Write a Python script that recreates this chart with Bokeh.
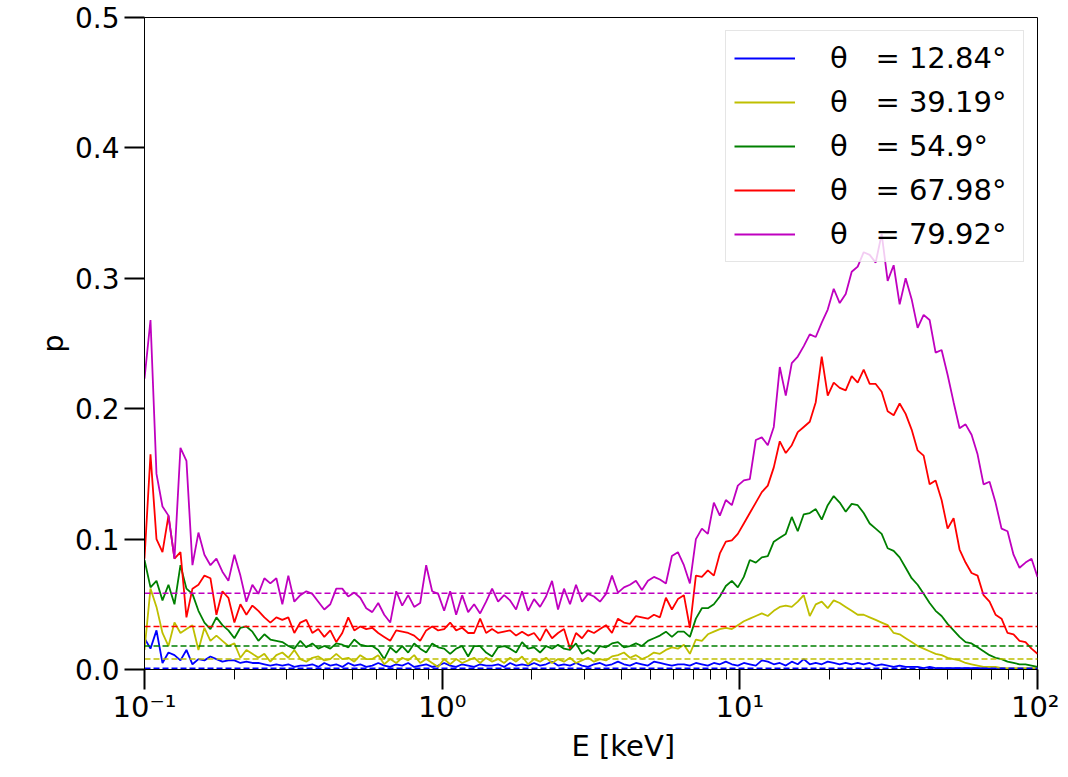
import numpy as np
from bokeh.plotting import figure
from bokeh.models import (FixedTicker, CustomJSTickFormatter, Legend,
                          LegendItem, NumeralTickFormatter, Title)
from bokeh.embed import file_html
from bokeh.resources import INLINE

# ---------------- data ----------------
E_MIN, E_MAX = 0.1, 100.0
N_POINTS = 150
energy = np.logspace(np.log10(E_MIN), np.log10(E_MAX), N_POINTS)

angles = ["12.84", "39.19", "54.9", "67.98", "79.92"]
colors = ["#0000ff", "#bfbf00", "#008000", "#ff0000", "#bf00bf"]
# horizontal reference levels (dashed)
levels = [0.001, 0.008, 0.018, 0.033, 0.0585]

p_blue = [
    0.024, 0.016, 0.030, 0.005, 0.013, 0.011, 0.007, 0.015, 0.004, 0.008,
    0.007, 0.010, 0.008, 0.006, 0.007, 0.007, 0.005, 0.006, 0.005, 0.005,
    0.004, 0.003, 0.004, 0.003, 0.004, 0.002, 0.003,
    0.003, 0.004, 0.002, 0.005, 0.003, 0.004, 0.002, 0.005, 0.003, 0.004,
    0.002, 0.003, 0.005, 0.003, 0.002, 0.004, 0.003, 0.005, 0.002, 0.003,
    0.004, 0.002, 0.003, 0.005, 0.003, 0.002, 0.004, 0.003, 0.002, 0.004, 0.003,
    0.003, 0.004, 0.002, 0.005, 0.003, 0.004, 0.003, 0.005, 0.003, 0.004,
    0.006, 0.003, 0.004, 0.003, 0.005, 0.003, 0.002, 0.004, 0.005, 0.003,
    0.004, 0.006, 0.004, 0.003, 0.005, 0.004, 0.003, 0.006, 0.005, 0.004,
    0.003, 0.004,
    0.004, 0.003, 0.005, 0.004, 0.003, 0.005, 0.004, 0.006, 0.004, 0.003,
    0.005, 0.004, 0.003, 0.007, 0.006, 0.004, 0.005, 0.003, 0.006, 0.004,
    0.008, 0.004, 0.005, 0.004, 0.006, 0.005, 0.004, 0.005, 0.004, 0.005,
    0.004, 0.005, 0.003, 0.004, 0.003, 0.002, 0.003, 0.002, 0.002, 0.002,
    0.001, 0.002, 0.001, 0.001, 0.001, 0.001, 0.001, 0.001, 0.001, 0.001,
    0.001, 0.001, 0.000, 0.001, 0.000, 0.000, 0.000, 0.000, 0.000, 0.000,
]

p_yellow = [
    0.015, 0.062, 0.048, 0.028, 0.018, 0.036, 0.028, 0.031, 0.034, 0.015,
    0.032, 0.022, 0.026, 0.022, 0.018, 0.020, 0.009, 0.015, 0.012, 0.009,
    0.012, 0.006, 0.011, 0.013, 0.009, 0.015, 0.008,
    0.006, 0.009, 0.010, 0.007, 0.008, 0.012, 0.008, 0.009, 0.006, 0.011,
    0.008, 0.008, 0.011, 0.004, 0.008, 0.005, 0.009, 0.007, 0.011, 0.005,
    0.008, 0.005, 0.002, 0.008, 0.004, 0.008, 0.005, 0.007, 0.009, 0.005, 0.009,
    0.006, 0.008, 0.005, 0.009, 0.006, 0.010, 0.004, 0.008, 0.006, 0.009,
    0.005, 0.008, 0.006, 0.009, 0.005, 0.007, 0.009, 0.006, 0.008, 0.007,
    0.010, 0.011, 0.013, 0.009, 0.011, 0.008, 0.010, 0.013, 0.012, 0.015,
    0.017, 0.016,
    0.019, 0.012, 0.023, 0.022, 0.027, 0.029, 0.031, 0.032, 0.031, 0.034,
    0.037, 0.039, 0.041, 0.043, 0.041, 0.045, 0.048, 0.049, 0.048, 0.052,
    0.057, 0.041, 0.050, 0.052, 0.047, 0.053, 0.051, 0.048, 0.045, 0.042,
    0.042, 0.040, 0.038, 0.036, 0.034, 0.028, 0.027, 0.024, 0.021, 0.018,
    0.016, 0.014, 0.012, 0.011, 0.009, 0.008, 0.007, 0.005, 0.004, 0.003,
    0.002, 0.002, 0.002, 0.001, 0.001, 0.001, 0.001, 0.001, 0.001, 0.001,
]

p_green = [
    0.084, 0.063, 0.068, 0.053, 0.065, 0.050, 0.080, 0.062, 0.058, 0.045,
    0.036, 0.031, 0.040, 0.034, 0.030, 0.024, 0.032, 0.033, 0.029, 0.022,
    0.027, 0.023, 0.022, 0.021, 0.018, 0.016, 0.022,
    0.017, 0.020, 0.016, 0.018, 0.016, 0.020, 0.019, 0.017, 0.023, 0.019,
    0.018, 0.018, 0.015, 0.008, 0.017, 0.013, 0.018, 0.013, 0.020, 0.016,
    0.013, 0.020, 0.017, 0.016, 0.012, 0.016, 0.018, 0.010, 0.018, 0.018, 0.013,
    0.010, 0.017, 0.018, 0.016, 0.013, 0.021, 0.016, 0.017, 0.013, 0.018,
    0.016, 0.019, 0.016, 0.015, 0.020, 0.012, 0.015, 0.012, 0.018, 0.017,
    0.020, 0.021, 0.017, 0.018, 0.020, 0.018, 0.022, 0.024, 0.026, 0.029,
    0.025, 0.029,
    0.029, 0.025, 0.039, 0.047, 0.047, 0.050, 0.056, 0.064, 0.068, 0.063,
    0.071, 0.084, 0.082, 0.086, 0.087, 0.098, 0.101, 0.104, 0.117, 0.106,
    0.119, 0.120, 0.123, 0.115, 0.126, 0.133, 0.128, 0.121, 0.127, 0.126,
    0.120, 0.112, 0.108, 0.104, 0.093, 0.091, 0.086, 0.078, 0.070, 0.065,
    0.058, 0.051, 0.045, 0.041, 0.035, 0.030, 0.025, 0.021, 0.020, 0.017,
    0.014, 0.011, 0.009, 0.008, 0.006, 0.005, 0.004, 0.004, 0.003, 0.002,
]

p_red = [
    0.085, 0.165, 0.100, 0.090, 0.118, 0.085, 0.090, 0.040, 0.062, 0.065,
    0.072, 0.070, 0.042, 0.060, 0.055, 0.036, 0.050, 0.042, 0.049, 0.045,
    0.040, 0.036, 0.040, 0.038, 0.040, 0.028, 0.036,
    0.038, 0.028, 0.031, 0.025, 0.030, 0.021, 0.028, 0.040, 0.030, 0.033,
    0.031, 0.032, 0.028, 0.025, 0.022, 0.030, 0.029, 0.028, 0.026, 0.022,
    0.030, 0.033, 0.030, 0.031, 0.036, 0.030, 0.032, 0.028, 0.028, 0.039, 0.028,
    0.031, 0.028, 0.029, 0.030, 0.026, 0.029, 0.026, 0.028, 0.022, 0.031,
    0.024, 0.028, 0.031, 0.016, 0.028, 0.024, 0.030, 0.028, 0.031, 0.034,
    0.028, 0.039, 0.036, 0.035, 0.041, 0.040, 0.039, 0.042, 0.040, 0.055,
    0.046, 0.054,
    0.057, 0.032, 0.072, 0.071, 0.076, 0.072, 0.089, 0.098, 0.099, 0.104,
    0.112, 0.120, 0.128, 0.136, 0.141, 0.155, 0.175, 0.166, 0.172, 0.182,
    0.186, 0.190, 0.205, 0.240, 0.210, 0.220, 0.216, 0.214, 0.225, 0.220,
    0.230, 0.219, 0.219, 0.213, 0.198, 0.195, 0.204, 0.196, 0.184, 0.168,
    0.164, 0.142, 0.145, 0.130, 0.108, 0.116, 0.092, 0.082, 0.074, 0.072,
    0.057, 0.052, 0.042, 0.039, 0.028, 0.027, 0.022, 0.021, 0.016, 0.012,
]

p_magenta = [
    0.223, 0.268, 0.150, 0.125, 0.118, 0.085, 0.170, 0.160, 0.080, 0.105,
    0.088, 0.080, 0.085, 0.075, 0.068, 0.088, 0.072, 0.052, 0.065, 0.058,
    0.070, 0.066, 0.070, 0.050, 0.072, 0.052, 0.057,
    0.060, 0.058, 0.052, 0.046, 0.050, 0.062, 0.062, 0.056, 0.059, 0.055,
    0.047, 0.044, 0.051, 0.042, 0.036, 0.060, 0.049, 0.057, 0.048, 0.051,
    0.080, 0.060, 0.058, 0.045, 0.060, 0.042, 0.057, 0.044, 0.050, 0.043, 0.052,
    0.062, 0.052, 0.057, 0.053, 0.046, 0.060, 0.045, 0.054, 0.048, 0.056,
    0.068, 0.046, 0.062, 0.050, 0.065, 0.052, 0.058, 0.056, 0.052, 0.058,
    0.072, 0.059, 0.063, 0.065, 0.068, 0.061, 0.068, 0.071, 0.069, 0.066,
    0.087, 0.090,
    0.080, 0.066, 0.100, 0.108, 0.104, 0.128, 0.118, 0.130, 0.126, 0.141,
    0.145, 0.146, 0.176, 0.178, 0.172, 0.186, 0.232, 0.210, 0.235, 0.240,
    0.248, 0.257, 0.255, 0.266, 0.276, 0.292, 0.281, 0.288, 0.305, 0.309,
    0.320, 0.318, 0.312, 0.334, 0.298, 0.310, 0.280, 0.300, 0.284, 0.262,
    0.272, 0.268, 0.243, 0.245, 0.226, 0.205, 0.185, 0.188, 0.180, 0.165,
    0.142, 0.144, 0.128, 0.108, 0.106, 0.088, 0.078, 0.082, 0.085, 0.071,
]

series = [p_blue, p_yellow, p_green, p_red, p_magenta]

x_major_ticks = [0.1, 1.0, 10.0, 100.0]
x_minor_ticks = [m * d for d in (0.1, 1.0, 10.0) for m in range(2, 10)]
y_ticks = [0.0, 0.1, 0.2, 0.3, 0.4, 0.5]

FONT = "DejaVu Sans"

# ---------------- figure ----------------
p = figure(
    frame_width=893, frame_height=652,
    min_border_left=144, min_border_top=17,
    min_border_right=22, min_border_bottom=100,
    x_axis_type="log", x_range=(E_MIN, E_MAX), y_range=(0.0, 0.5),
    output_backend="svg", toolbar_location=None,
)
p.xgrid.visible = False
p.ygrid.visible = False
p.outline_line_color = "black"
p.outline_line_width = 1
p.background_fill_color = "white"
p.border_fill_color = "white"

renderers = []
for vals, col in zip(series, colors):
    r = p.line(energy, vals, line_color=col, line_width=1.8)
    renderers.append(r)

for lvl, col in zip(levels, colors):
    p.line([E_MIN, E_MAX], [lvl, lvl], line_color=col, line_width=1.6,
           line_dash="6 3")

# x axis
xa = p.xaxis[0]
xa.ticker = FixedTicker(ticks=x_major_ticks, minor_ticks=x_minor_ticks)
xa.formatter = CustomJSTickFormatter(code="""
const e = Math.round(Math.log10(tick));
const sup = {"-1": "\u207b\u00b9", "0": "\u2070", "1": "\u00b9", "2": "\u00b2"};
return "10" + sup[String(e)];
""")
xa.major_tick_out = 20
xa.major_tick_in = 0
xa.minor_tick_out = 10
xa.minor_tick_in = 0
xa.major_tick_line_width = 2
xa.minor_tick_line_width = 1
xa.major_tick_line_color = "black"
xa.minor_tick_line_color = "black"
xa.axis_line_color = "black"
xa.axis_line_width = 1
xa.major_label_text_font = FONT
xa.major_label_text_font_size = "29px"
xa.major_label_text_color = "black"
xa.major_label_standoff = 0

# y axis
ya = p.yaxis[0]
ya.ticker = FixedTicker(ticks=y_ticks)
ya.formatter = NumeralTickFormatter(format="0.0")
ya.major_tick_out = 20
ya.major_tick_in = 0
ya.major_tick_line_width = 2
ya.major_tick_line_color = "black"
ya.minor_tick_line_color = None
ya.axis_line_color = "black"
ya.axis_line_width = 1
ya.major_label_text_font = FONT
ya.major_label_text_font_size = "28px"
ya.major_label_text_color = "black"
ya.major_label_standoff = 5
ya.axis_label = "p"
ya.axis_label_text_font = FONT
ya.axis_label_text_font_size = "29px"
ya.axis_label_text_font_style = "normal"
ya.axis_label_text_color = "black"
ya.axis_label_standoff = 2

# x axis label, set below the axis and shifted right as in the reference
xlabel = Title(text="E [keV]", align="left", offset=427, standoff=0,
               text_font=FONT, text_font_size="29px",
               text_font_style="normal", text_color="black")
p.add_layout(xlabel, "below")

# legend
items = [LegendItem(label=f"\u03b8   = {a}\u00b0", renderers=[r])
         for a, r in zip(angles, renderers)]
legend = Legend(
    items=items, location="top_right",
    label_text_font=FONT, label_text_font_size="29px", label_text_color="black",
    glyph_width=61, glyph_height=38, label_height=38, label_width=185,
    spacing=6, label_standoff=35, padding=8, margin=13,
    border_line_color="#cccccc", border_line_width=1,
    background_fill_color="white", background_fill_alpha=0.8,
)
p.add_layout(legend)

open("out.html", "w", encoding="utf-8").write(file_html(p, INLINE))
